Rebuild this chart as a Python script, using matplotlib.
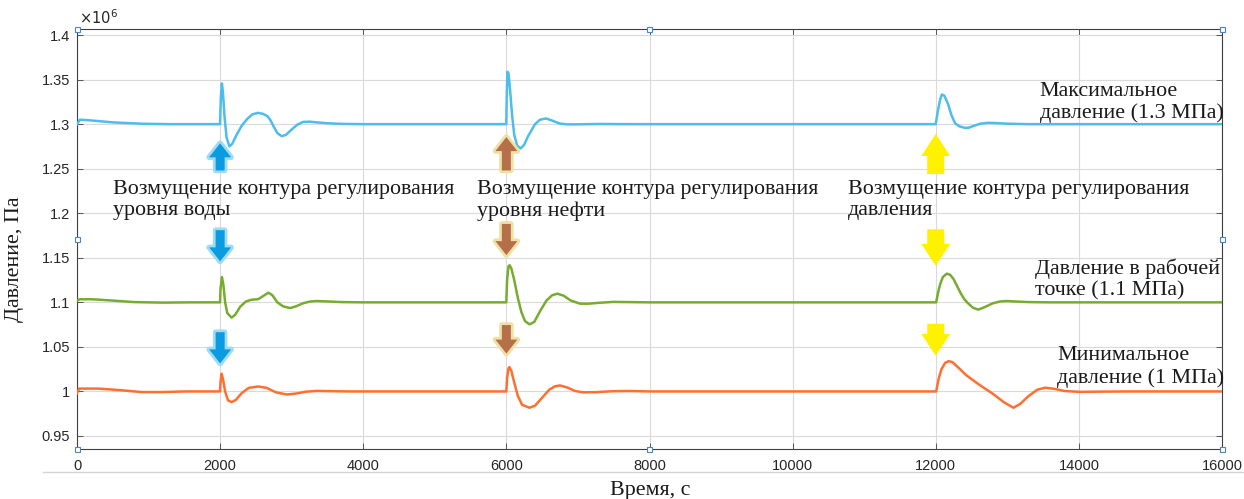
import matplotlib
matplotlib.use("Agg")
import matplotlib.pyplot as plt
from matplotlib.patches import Polygon, Rectangle
from matplotlib.lines import Line2D
from matplotlib.ticker import FuncFormatter, MultipleLocator

# pressure traces, values in 10^6 Pa
t_max = [0, 40, 150, 500, 900, 1300, 1999,
         2010, 2025, 2040, 2060, 2090, 2130, 2170, 2230, 2300, 2380, 2450, 2530, 2600,
         2660, 2700, 2750, 2800, 2860, 2920, 3000, 3080, 3160, 3250, 3350, 3500, 3700, 4000,
         5999, 6005, 6015, 6030, 6050, 6080, 6110, 6150, 6200, 6250, 6300, 6400, 6470,
         6555, 6640, 6740, 6840, 7000, 7300, 7700,
         11999, 12030, 12060, 12085, 12120, 12170, 12220, 12270, 12330, 12400, 12455,
         12530, 12620, 12730, 12850, 13000, 13300, 16000]
p_max = [1.300, 1.305, 1.3045, 1.302, 1.3005, 1.300, 1.300,
         1.330, 1.3457, 1.335, 1.310, 1.285, 1.275, 1.278, 1.288, 1.298, 1.306, 1.311, 1.3127, 1.3115,
         1.309, 1.305, 1.297, 1.290, 1.2865, 1.288, 1.294, 1.2995, 1.3025, 1.3028, 1.302, 1.301, 1.3003, 1.300,
         1.300, 1.330, 1.3588, 1.357, 1.340, 1.310, 1.288, 1.276, 1.2727, 1.277, 1.286, 1.300, 1.305,
         1.3064, 1.304, 1.3008, 1.2998, 1.2998, 1.3002, 1.300,
         1.300, 1.315, 1.327, 1.3333, 1.332, 1.323, 1.310, 1.301, 1.2975, 1.296, 1.2959,
         1.298, 1.3005, 1.3015, 1.3012, 1.3005, 1.300, 1.300]

t_work = [0, 40, 200, 500, 800, 1200, 1600, 1999,
          2005, 2025, 2045, 2070, 2100, 2160, 2210, 2280, 2360, 2440, 2530, 2600, 2675,
          2730, 2800, 2880, 2977, 3060, 3160, 3260, 3350, 3500, 3700, 4000,
          5999, 6010, 6030, 6045, 6070, 6110, 6160, 6210, 6260, 6322, 6390, 6470, 6560,
          6640, 6713, 6800, 6900, 7030, 7150, 7300, 7490, 7700, 8000,
          12006, 12030, 12060, 12100, 12155, 12200, 12250, 12300, 12350, 12400, 12450,
          12520, 12595, 12680, 12800, 12900, 12990, 13100, 13300, 13600, 16000]
p_work = [1.102, 1.1035, 1.1035, 1.102, 1.1003, 1.0997, 1.100, 1.100,
          1.115, 1.1284, 1.120, 1.100, 1.088, 1.0828, 1.086, 1.095, 1.101, 1.103, 1.1035, 1.107, 1.1109,
          1.108, 1.100, 1.0955, 1.0936, 1.0955, 1.099, 1.101, 1.1015, 1.101, 1.1003, 1.100,
          1.100, 1.125, 1.1405, 1.1416, 1.138, 1.125, 1.105, 1.089, 1.079, 1.0753, 1.078, 1.090, 1.102,
          1.108, 1.1097, 1.1075, 1.102, 1.0985, 1.0985, 1.0995, 1.1005, 1.1003, 1.100,
          1.100, 1.110, 1.120, 1.1285, 1.1322, 1.131, 1.126, 1.118, 1.110, 1.1035, 1.099,
          1.094, 1.0918, 1.0945, 1.099, 1.101, 1.1015, 1.101, 1.1003, 1.100, 1.100]

t_min = [0, 30, 300, 600, 900, 1200, 1500, 1999,
         2005, 2020, 2040, 2070, 2110, 2160, 2220, 2300, 2400, 2535, 2650, 2780, 2930,
         3050, 3200, 3350, 3550, 3800,
         5999, 6010, 6030, 6042, 6070, 6110, 6160, 6220, 6322, 6400, 6500, 6600, 6680,
         6750, 6850, 6960, 7070, 7250, 7500, 7700, 8000,
         12006, 12040, 12080, 12130, 12180, 12230, 12300, 12430, 12600, 12805, 12950, 13085,
         13180, 13300, 13420, 13530, 13650, 13800, 14020, 14300, 14800, 16000]
p_min = [0.998, 1.0032, 1.0032, 1.0015, 0.9993, 0.9993, 1.000, 1.000,
         1.010, 1.0199, 1.014, 1.000, 0.990, 0.988, 0.9905, 0.998, 1.004, 1.0056, 1.004, 0.999, 0.9966,
         0.9975, 0.9997, 1.0006, 1.0003, 1.000,
         1.000, 1.015, 1.026, 1.0273, 1.023, 1.010, 0.995, 0.985, 0.9817, 0.984, 0.993, 1.002, 1.0058,
         1.0067, 1.0045, 1.0005, 0.999, 0.9992, 1.0003, 1.0005, 1.000,
         1.000, 1.014, 1.025, 1.032, 1.034, 1.033, 1.028, 1.018, 1.008, 0.997, 0.988, 0.9817,
         0.986, 0.995, 1.002, 1.0042, 1.003, 1.0005, 0.9995, 0.9998, 1.000, 1.000]

# disturbance markers: time, (tip, tail) per row
arrow_t = [2000, 6000, 12000]
arrow_up = [(1.2785, 1.2480), (1.2855, 1.2480), (1.2890, 1.2440)]
arrow_mid = [(1.1460, 1.1810), (1.1530, 1.1880), (1.1410, 1.1820)]
arrow_low = [(1.0315, 1.0665), (1.0425, 1.0745), (1.0400, 1.0760)]
arrow_face = ["#0a9be0", "#b5704a", "#fff200"]
arrow_glow = ["#9fdcf3", "#efe0a6", None]

dist_labels = ["Возмущение контура регулирования\nуровня воды",
               "Возмущение контура регулирования\nуровня нефти",
               "Возмущение контура регулирования\nдавления"]
dist_x = [500, 5590, 10770]
curve_labels = ["Максимальное\nдавление (1.3 МПа)",
                "Давление в рабочей\nточке (1.1 МПа)",
                "Минимальное\nдавление (1 МПа)"]
curve_lab_x = [13450, 13380, 13700]
curve_lab_y = [1.3475, 1.1495, 1.0505]

SERIF = "Liberation Serif"
SANS = "Liberation Sans"

fig = plt.figure(figsize=(12.44, 4.99), dpi=100)
ax = fig.add_axes([77 / 1244, 50 / 499, 1145 / 1244, 420 / 499])

ax.plot(t_max, p_max, color="#4dbdec", lw=1.8, zorder=3)
ax.plot(t_work, p_work, color="#77ac30", lw=1.8, zorder=3)
ax.plot(t_min, p_min, color="#ff6f30", lw=1.8, zorder=3)

ax.set_xlim(0, 16000)
ax.set_ylim(0.9354, 1.4068)
ax.xaxis.set_major_locator(MultipleLocator(2000))
ax.yaxis.set_major_locator(MultipleLocator(0.05))
ax.yaxis.set_major_formatter(FuncFormatter(lambda v, _: f"{v:g}"))
ax.grid(True, color="#dadada", lw=0.8)
ax.set_axisbelow(True)
ax.tick_params(direction="in", length=4, width=0.6, color="#404040",
               top=True, right=True, labelsize=10.5, labelcolor="#262626")
ax.tick_params(axis="y", pad=5)
ax.tick_params(axis="x", pad=7)
for lab in ax.get_xticklabels() + ax.get_yticklabels():
    lab.set_fontfamily(SANS)
for sp in ax.spines.values():
    sp.set_color("#404040")
    sp.set_linewidth(0.8)

ax.text(0.002, 1.005, r"$\times10^{6}$", transform=ax.transAxes, fontsize=10.5,
        color="#262626", ha="left", va="bottom", family=SANS)


def block_arrow(t, tip, tail, head_w, shaft_w, head_len, face, glow):
    # geometry in pixels, anchored to data coordinates
    tx, ty = ax.transData.transform((t, tip))
    _, by = ax.transData.transform((t, tail))
    sign = 1 if ty > by else -1
    hb = ty - sign * head_len
    verts = [(tx, ty), (tx + head_w / 2, hb), (tx + shaft_w / 2, hb),
             (tx + shaft_w / 2, by), (tx - shaft_w / 2, by),
             (tx - shaft_w / 2, hb), (tx - head_w / 2, hb)]
    pts = ax.transData.inverted().transform(verts)
    if glow:
        ax.add_patch(Polygon(pts, closed=True, fc=glow, ec=glow, lw=4,
                             joinstyle="round", zorder=4))
    ax.add_patch(Polygon(pts, closed=True, fc=face, ec="none", zorder=5))


for i, t in enumerate(arrow_t):
    big = arrow_glow[i] is None
    hw, sw, hl = (29, 17, 22) if big else (22, 9, 14)
    for tip, tail in (arrow_up[i], arrow_mid[i], arrow_low[i]):
        block_arrow(t, tip, tail, hw, sw, hl, arrow_face[i], arrow_glow[i])

for x, s in zip(dist_x, dist_labels):
    ax.text(x, 1.2375, s, family=SERIF, fontsize=15.8, color="#1a1a1a",
            ha="left", va="top", linespacing=1.17, zorder=6)
for x, y, s in zip(curve_lab_x, curve_lab_y, curve_labels):
    ax.text(x, y, s, family=SERIF, fontsize=15.8, color="#1a1a1a",
            ha="left", va="top", linespacing=1.17, zorder=6)

fig.text(15 / 1244, 240 / 499, "Давление, Па", rotation=90, family=SERIF,
         fontsize=15.8, color="#1a1a1a", ha="center", va="center")
fig.text(650 / 1244, 18 / 499, "Время, с", family=SERIF, fontsize=15.8,
         color="#1a1a1a", ha="center", va="top")

# separator under the axes
fig.add_artist(Line2D([43 / 1244, 1.0], [27 / 499, 27 / 499], color="#d4d4d4", lw=1.0))

# selection handles around the plot box
for hx, hy in [(0, 1), (0.5, 1), (1, 1), (0, 0.5), (1, 0.5), (0, 0), (0.5, 0), (1, 0)]:
    px, py = ax.transAxes.transform((hx, hy))
    fx, fy = fig.transFigure.inverted().transform((px - 2.5, py - 2.5))
    fig.add_artist(Rectangle((fx, fy), 5 / 1244, 5 / 499, fc="white",
                             ec="#4a86c5", lw=0.8, zorder=10))

fig.savefig("out.png", dpi=100)
